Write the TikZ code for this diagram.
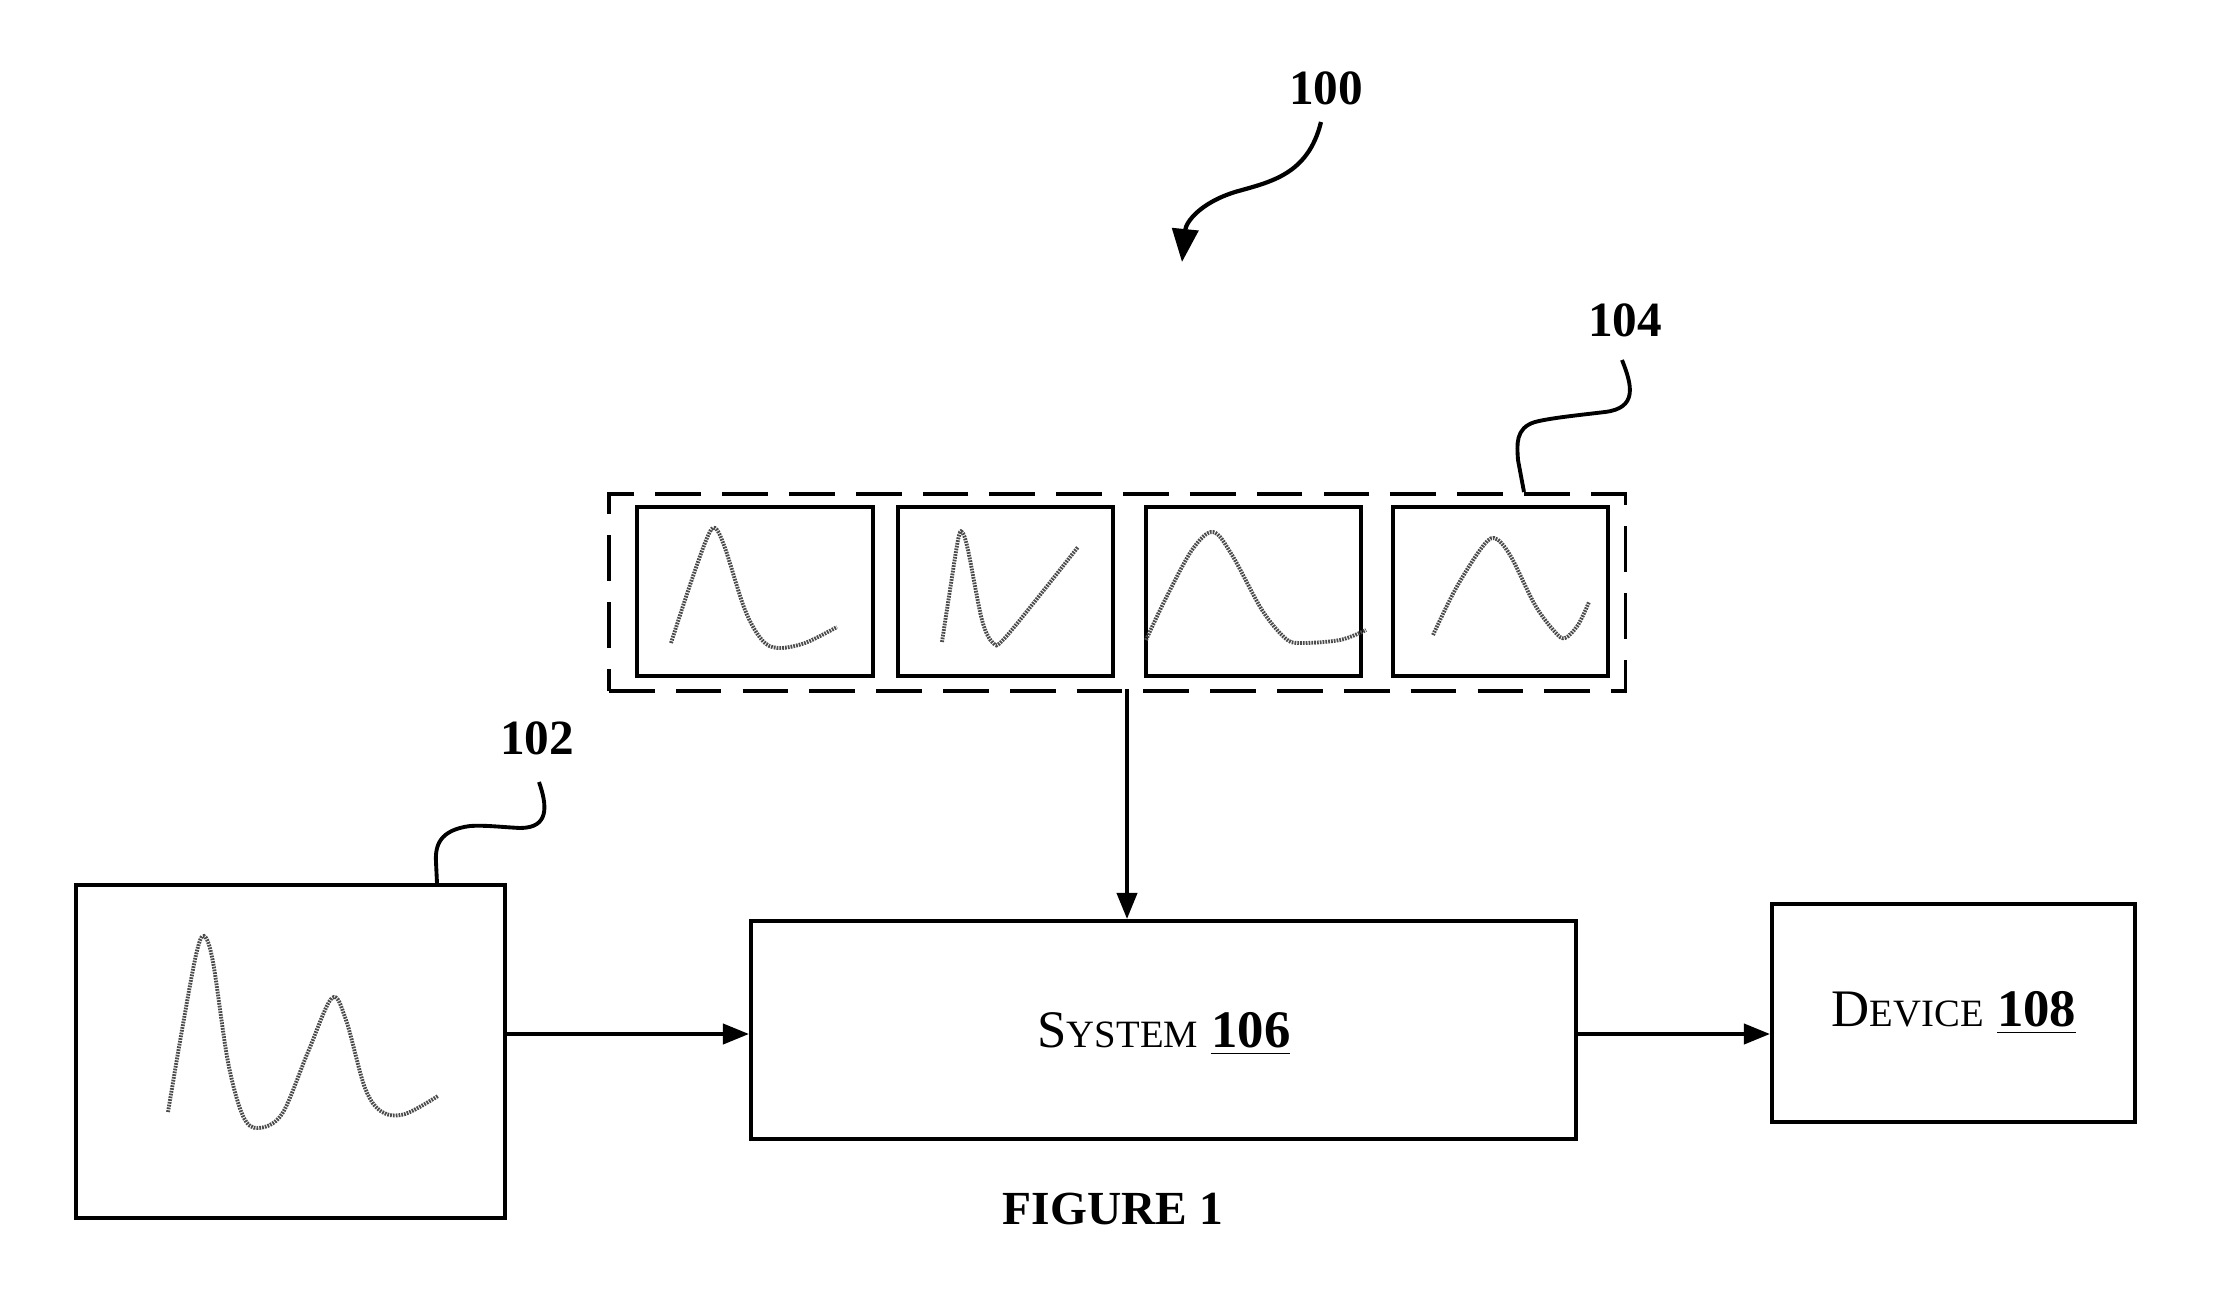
\documentclass[tikz,border=0pt]{standalone}
\usepackage{fontspec}
\setmainfont{Liberation Serif}
\usetikzlibrary{arrows.meta}
\begin{document}
\begin{tikzpicture}[x=0.01cm,y=-0.01cm,
  box/.style={draw,line width=1.1pt,inner sep=0pt},
  dbox/.style={draw,line width=1.1pt,dash pattern=on 13pt off 6pt},
  wave/.style={draw=black!70,line width=1.1pt,dash pattern=on 0.5pt off 0.3pt,line cap=butt},
  conn/.style={line width=1.1pt,-{Triangle[length=0.26cm,width=0.2cm]}},
  lead/.style={line width=1.1pt},
  num/.style={font=\fontsize{14}{16}\selectfont\bfseries,inner sep=0pt},
  lbl/.style={font=\fontsize{15}{18}\selectfont,inner sep=0pt}]
\useasboundingbox (0,0) rectangle (2217,1303);
% boxes
\node[box,minimum width=4.29cm,minimum height=3.33cm,anchor=north west] (in) at (74,883) {};
\node[box,minimum width=8.25cm,minimum height=2.18cm,anchor=north west] (sys) at (749,919) {};
\node[box,minimum width=3.63cm,minimum height=2.18cm,anchor=north west] (dev) at (1770,902) {};
\node[lbl] (systxt) at (1164,1034) {S{\fontsize{11}{13}\selectfont YSTEM} \underline{\textbf{106}}};
\node[lbl] (devtxt) at (1954,1013) {D{\fontsize{11}{13}\selectfont EVICE} \underline{\textbf{108}}};
% dashed group
\node[dbox,minimum width=10.16cm,minimum height=1.97cm,anchor=north west] (grp) at (607,492) {};
\node[box,minimum width=2.36cm,minimum height=1.69cm,anchor=north west] (t1) at (635,505) {};
\node[box,minimum width=2.15cm,minimum height=1.69cm,anchor=north west] (t2) at (896,505) {};
\node[box,minimum width=2.15cm,minimum height=1.69cm,anchor=north west] (t3) at (1144,505) {};
\node[box,minimum width=2.15cm,minimum height=1.69cm,anchor=north west] (t4) at (1391,505) {};
% waves
\draw[wave] plot[smooth,tension=0.55] coordinates {(168,1112) (182,1030) (196,955) (204,936) (213,962) (228,1062) (243,1116) (258,1128) (282,1114) (308,1052) (332,998) (346,1020) (365,1088) (382,1112) (405,1114) (438,1096)};
\draw[wave] plot[smooth,tension=0.55] coordinates {(671,643) (690,585) (707,538) (715,528) (725,548) (745,610) (762,640) (778,648) (805,643) (837,627)};
\draw[wave] plot[smooth,tension=0.55] coordinates {(942,642) (950,590) (958,540) (962,532) (968,550) (982,620) (993,643) (1003,640) (1040,595) (1078,547)};
\draw[wave] plot[smooth,tension=0.55] coordinates {(1146,640) (1165,600) (1192,550) (1213,532) (1232,555) (1262,610) (1285,638) (1300,643) (1340,640) (1366,630)};
\draw[wave] plot[smooth,tension=0.55] coordinates {(1433,635) (1455,590) (1480,550) (1494,538) (1510,555) (1535,605) (1555,632) (1565,638) (1578,625) (1589,602)};
% connectors
\coordinate (gb) at (1127,689);
\coordinate (row) at (0,1034);
\draw[conn] (gb) -- (gb |- sys.north);
\draw[conn] (in.east |- row) -- (sys.west |- row);
\draw[conn] (sys.east |- row) -- (dev.west |- row);
% labels
\node[num] (n100) at (1326,88) {100};
\node[num] (n104) at (1625,320) {104};
\node[num] (n102) at (537,738) {102};
\node[font=\fontsize{13.5}{16}\selectfont\bfseries,inner sep=0pt] (fig) at (1113,1209) {FIGURE 1};
% leaders
\coordinate (a100) at (1321,122);
\coordinate (b100) at (1182,262);
\draw[line width=1.2pt,-{Triangle[length=0.33cm,width=0.26cm]}] (a100) .. controls (1308,175) and (1270,182) .. (1235,192) .. controls (1200,203) and (1186,222) .. (b100);
\coordinate (a104) at (1622,360);
\coordinate (b104) at (1524,492);
\draw[lead] (a104) .. controls (1632,385) and (1638,408) .. (1605,412) .. controls (1580,415) and (1550,418) .. (1535,422) .. controls (1515,428) and (1517,445) .. (1518,460) -- (b104);
\coordinate (a102) at (539,782);
\coordinate (b102) at (437,883);
\draw[lead] (a102) .. controls (547,805) and (550,828) .. (520,828) .. controls (500,827) and (485,825) .. (470,826) .. controls (440,830) and (435,845) .. (436,862) -- (b102);
\end{tikzpicture}
\end{document}
